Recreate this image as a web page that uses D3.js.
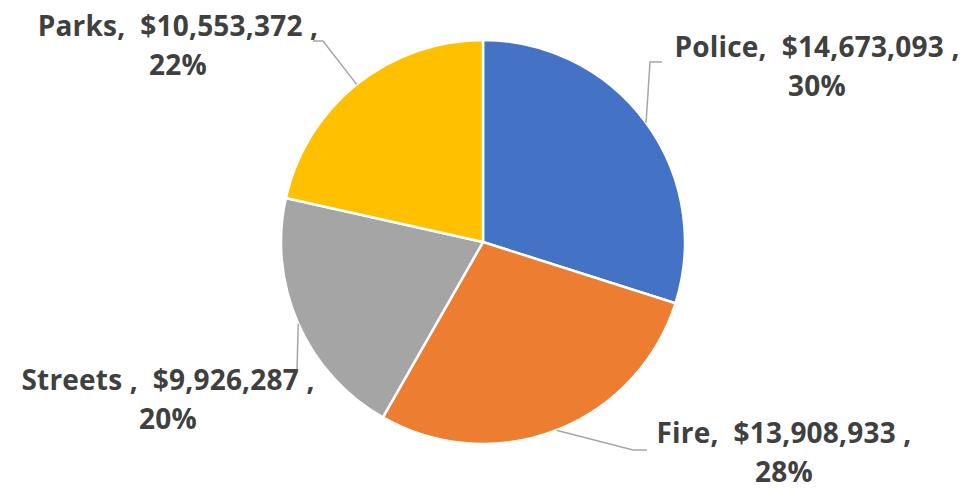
<!DOCTYPE html>
<html>
<head>
<meta charset="utf-8">
<script src="https://cdn.jsdelivr.net/npm/d3@7"></script>
<style>
  body { margin: 0; background: #fff; }
  svg text { font-family: "Open Sans", Lato, sans-serif; font-weight: 700; fill: #404040; white-space: pre; }
</style>
</head>
<body>
<svg width="970" height="490"></svg>
<script>
// data
var categories = ["Police", "Fire", "Streets ", "Parks"];
var budget = [14673093, 13908933, 9926287, 10553372];
var colors = ["#4472C4", "#ED7D31", "#A5A5A5", "#FFC000"];

// label layout (center x, baseline of first line, leader elbow points)
var labelPos = {
    "Police":   { x: 817, y: 57,  elbow: [[650, 62], [662, 62]] },
    "Fire":     { x: 784, y: 443, elbow: [[633, 450], [647, 450]] },
    "Streets ": { x: 168, y: 390, elbow: [[297, 370]] },
    "Parks":    { x: 178, y: 36,  elbow: [[323, 41], [313, 41]] }
};

var cx = 483, cy = 242, radius = 202;
var total = d3.sum(budget);
var fmt = d3.format(",");

var rows = categories.map(function(c, i) {
    return { name: c, value: budget[i], color: colors[i] };
});

var pie = d3.pie().sort(null).value(function(d) { return d.value; });
var arc = d3.arc().innerRadius(0).outerRadius(radius);

var svg = d3.select("svg");
var g = svg.append("g").attr("transform", "translate(" + cx + "," + cy + ")");

var arcs = pie(rows);

g.selectAll("path.slice")
    .data(arcs)
    .enter()
    .append("path")
    .attr("class", "slice")
    .attr("d", arc)
    .attr("fill", function(d) { return d.data.color; })
    .attr("stroke", "#fff")
    .attr("stroke-width", 2.5);

// leader lines from outer edge at mid angle
svg.selectAll("path.leader")
    .data(arcs)
    .enter()
    .append("path")
    .attr("class", "leader")
    .attr("fill", "none")
    .attr("stroke", "#A6A6A6")
    .attr("stroke-width", 1.5)
    .attr("d", function(d) {
        var a = (d.startAngle + d.endAngle) / 2;
        var pts = [[cx + radius * Math.sin(a), cy - radius * Math.cos(a)]]
            .concat(labelPos[d.data.name].elbow);
        return d3.line()(pts);
    });

var labels = svg.selectAll("text.lbl")
    .data(arcs)
    .enter()
    .append("text")
    .attr("class", "lbl")
    .attr("text-anchor", "middle")
    .attr("font-size", 28)
    .attr("letter-spacing", 0.2)
    .attr("x", function(d) { return labelPos[d.data.name].x; })
    .attr("y", function(d) { return labelPos[d.data.name].y; });

labels.append("tspan")
    .attr("x", function(d) { return labelPos[d.data.name].x; })
    .text(function(d) { return d.data.name + ",  $" + fmt(d.data.value) + " ,"; });

labels.append("tspan")
    .attr("x", function(d) { return labelPos[d.data.name].x; })
    .attr("dy", 39)
    .text(function(d) { return Math.round(d.data.value / total * 100) + "%"; });
</script>
</body>
</html>
